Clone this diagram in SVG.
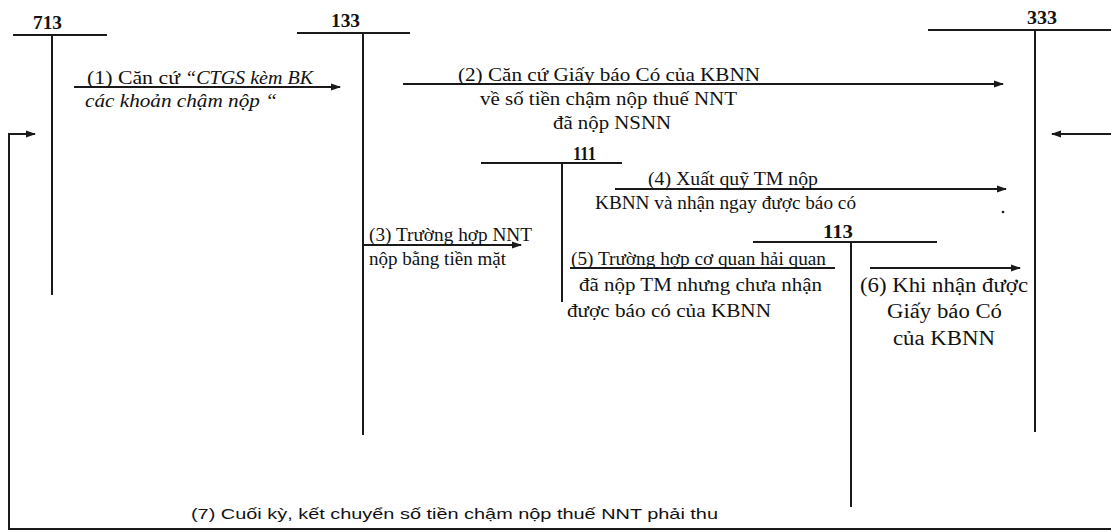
<svg xmlns="http://www.w3.org/2000/svg" width="1111" height="532" viewBox="0 0 1111 532">
<style>
.ln{stroke:#1a1a1a;stroke-width:2;fill:none}
.ar{stroke:#1a1a1a;stroke-width:2;fill:none;marker-end:url(#ah)}
.acc{font-family:"Liberation Serif","Times New Roman",serif;font-weight:bold;font-size:18px;fill:#111}
.t{font-family:"Liberation Serif","Times New Roman",serif;font-size:18px;fill:#111}
.t6{font-family:"Liberation Serif","Times New Roman",serif;font-size:20px;fill:#111}
.it{font-style:italic}
.s{font-family:"Liberation Sans",Arial,sans-serif;font-size:15px;fill:#111}
</style>
<defs>
<marker id="ah" markerWidth="10" markerHeight="8" refX="9" refY="4" orient="auto" markerUnits="userSpaceOnUse">
<path d="M0,0.5 L10,4 L0,7.5 z" fill="#1a1a1a"/>
</marker>
</defs>
<rect width="1111" height="532" fill="#fff"/>

<g id="acc713">
<line class="ln" x1="13" y1="35" x2="107" y2="35"/>
<line class="ln" x1="52" y1="35" x2="52" y2="295"/>
<text class="acc" x="33" y="29" textLength="29" lengthAdjust="spacingAndGlyphs">713</text>
</g>
<g id="acc133">
<line class="ln" x1="297" y1="33" x2="410" y2="33"/>
<line class="ln" x1="363" y1="33" x2="363" y2="435"/>
<text class="acc" x="331" y="27" textLength="29" lengthAdjust="spacingAndGlyphs">133</text>
</g>
<g id="acc333">
<line class="ln" x1="928" y1="30" x2="1111" y2="30"/>
<line class="ln" x1="1035" y1="30" x2="1035" y2="432"/>
<text class="acc" x="1027" y="24" textLength="30" lengthAdjust="spacingAndGlyphs">333</text>
</g>
<g id="acc111">
<line class="ln" x1="481" y1="163" x2="622" y2="163"/>
<line class="ln" x1="562" y1="163" x2="562" y2="302"/>
<text class="acc" x="573" y="160" textLength="23" lengthAdjust="spacingAndGlyphs">111</text>
</g>
<g id="acc113">
<line class="ln" x1="753" y1="242" x2="937" y2="242"/>
<line class="ln" x1="851" y1="242" x2="851" y2="507"/>
<text class="acc" x="823" y="238" textLength="30" lengthAdjust="spacingAndGlyphs">113</text>
</g>

<g id="connectors">
<line class="ar" x1="74" y1="87" x2="340" y2="87"/>
<line class="ar" x1="403" y1="84" x2="1003" y2="84"/>
<line class="ar" x1="615" y1="189" x2="1006" y2="189"/>
<line class="ar" x1="363" y1="245" x2="521" y2="245"/>
<line class="ln" x1="570" y1="268" x2="835" y2="268"/>
<line class="ar" x1="870" y1="268" x2="1020" y2="268"/>
<line class="ar" x1="1111" y1="134" x2="1052" y2="134"/>
<path class="ar" d="M1111,529 L9,529 L9,134 L35,134"/>
<circle cx="1003" cy="212" r="1.3" fill="#1a1a1a"/>
</g>

<g id="labels">
<text class="t" y="84"><tspan x="87" textLength="93" lengthAdjust="spacingAndGlyphs">(1) Căn cứ</tspan><tspan class="it" x="185" textLength="128" lengthAdjust="spacingAndGlyphs">“CTGS kèm BK</tspan></text>
<text class="t it" x="85" y="107" textLength="192" lengthAdjust="spacingAndGlyphs">các khoản  chậm nộp “</text>

<text class="t" x="458" y="81" textLength="302" lengthAdjust="spacingAndGlyphs">(2) Căn cứ Giấy báo Có của KBNN</text>
<text class="t" x="480" y="105" textLength="257" lengthAdjust="spacingAndGlyphs">về số tiền chậm nộp thuế NNT</text>
<text class="t" x="553" y="129" textLength="118" lengthAdjust="spacingAndGlyphs">đã nộp NSNN</text>

<text class="t" x="648" y="185" textLength="170" lengthAdjust="spacingAndGlyphs">(4) Xuất quỹ TM nộp</text>
<text class="t" x="595" y="209" textLength="261" lengthAdjust="spacingAndGlyphs">KBNN và nhận ngay được báo có</text>

<text class="t" x="369" y="241" textLength="163" lengthAdjust="spacingAndGlyphs">(3) Trường hợp NNT</text>
<text class="t" x="369" y="265" textLength="137" lengthAdjust="spacingAndGlyphs">nộp bằng tiền mặt</text>

<text class="t" x="571" y="265" textLength="255" lengthAdjust="spacingAndGlyphs">(5) Trường hợp cơ quan hải quan</text>
<text class="t" x="579" y="291" textLength="243" lengthAdjust="spacingAndGlyphs">đã nộp TM nhưng chưa nhận</text>
<text class="t" x="567" y="317" textLength="204" lengthAdjust="spacingAndGlyphs">được báo có của KBNN</text>

<text class="t6" x="860" y="292" textLength="168" lengthAdjust="spacingAndGlyphs">(6) Khi nhận được</text>
<text class="t6" x="887" y="318" textLength="115" lengthAdjust="spacingAndGlyphs">Giấy báo Có</text>
<text class="t6" x="893" y="345" textLength="102" lengthAdjust="spacingAndGlyphs">của KBNN</text>

<text class="s" x="191" y="519" textLength="527" lengthAdjust="spacingAndGlyphs">(7) Cuối kỳ, kết chuyển số tiền chậm nộp thuế NNT phải thu</text>
</g>
</svg>
